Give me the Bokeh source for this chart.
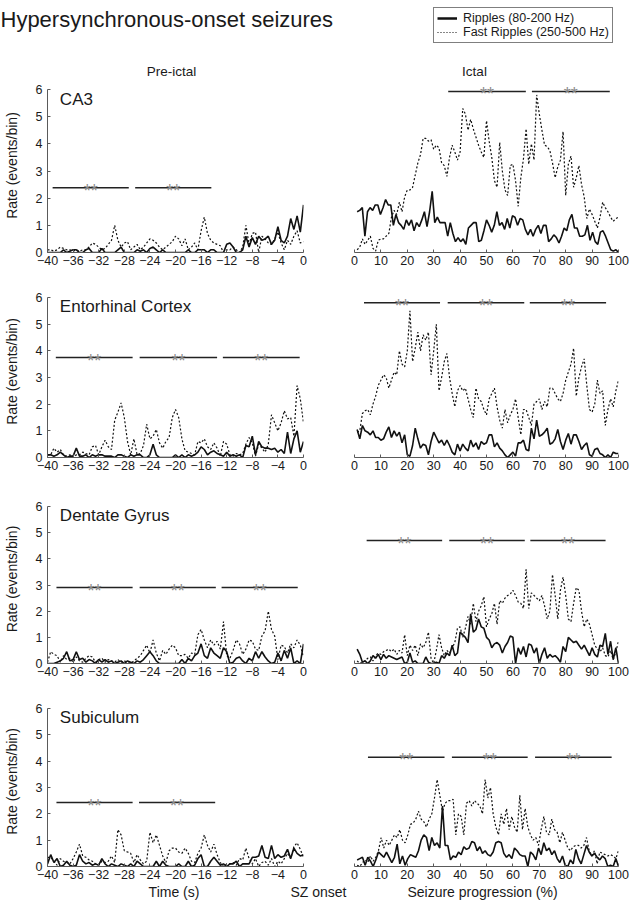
import numpy as np
from bokeh.plotting import figure
from bokeh.layouts import column, row
from bokeh.models import Range1d, FixedTicker, Label, Legend, LegendItem, ColumnDataSource
from bokeh.core.properties import value
from bokeh.embed import file_html
from bokeh.resources import INLINE

FONT = "Liberation Sans"

# ---------------------------------------------------------------- data
regions = ["CA3", "Entorhinal Cortex", "Dentate Gyrus", "Subiculum"]
pre_ticks = [-40, -36, -32, -28, -24, -20, -16, -12, -8, -4, 0]
ict_ticks = [0, 10, 20, 30, 40, 50, 60, 70, 80, 90, 100]
rate_ticks = [0, 1, 2, 3, 4, 5, 6]
pre_start, pre_end = -40, 0          # pre-ictal bins (s)
ict_start, ict_end = 1, 100          # ictal bins (% of seizure)

# CA3
ca3_pre_ripples = [0,0,0,0,0,0.1,0,0.05,0.1,0.1, 0,0,0.1,0.15,0,0,0,0.15,0,0,
                   0,0,0.1,0.2,0,0,0,0,0.1,0.05, 0.1,0,0.15,0.2,0.1,0,0.1,0,0,0,
                   0,0,0,0,0.1,0,0,0.1,0.1,0.1, 0,0.1,0.1,0,0,0,0.3,0.35,0.2,0,
                   0,0.1,0.6,0.2,0.55,0.3,0.6,0.45,0.5,0.6, 0.3,0.45,0.95,0.45,0.35,0.6,1.25,0.85,1.35,0.75,
                   1.75]
ca3_pre_fast = [0.1,0.1,0.05,0.1,0.2,0.15,0.1,0.1,0.05,0.1, 0.05,0.1,0.1,0.2,0.35,0.3,0.2,0.1,0.15,0.3,
                0.45,1.0,0.45,0.2,0.35,0.4,0.1,0.2,0.3,0.1, 0.2,0.35,0.5,0.45,0.35,0.2,0.1,0.2,0.3,0.4,
                0.6,0.5,0.25,0.5,0.1,0.2,0.35,0.1,0.8,1.3, 0.7,0.45,0.35,0.3,0.25,0,0.1,0.1,0.2,0.1,
                0,0.2,1.0,0.3,0.7,0.75,0,0.6,0.5,0.35, 0.3,0.5,0.75,0.35,0.1,0.45,0.3,0.6,0.8,0.35,
                0.4]
ca3_ict_ripples = [1.5,1.55,1.65,0.6,1.5,1.65,1.55,1.75,1.75,1.4, 1.65,1.95,1.75,1.75,1.0,1.4,1.1,1.0,0.85,1.2,
                   1.0,1.2,0.8,1.1,0.95,1.2,1.5,0.95,1.5,2.25, 1.1,1.3,1.1,1.1,1.1,0.6,1.1,0.7,0.4,0.55,
                   0.4,0.5,0.3,0.9,1.0,1.1,1.1,0.4,0.45,0.8, 1.2,1.0,0.75,1.0,1.5,1.0,1.1,0.85,1.25,0.9,
                   1.35,1.3,1.0,1.25,1.2,0.85,0.65,0.85,0.6,0.85, 1.0,0.7,1.0,1.0,0.4,0.5,0.65,0.55,0.35,0.6,
                   0.9,0.8,1.2,1.4,0.9,0.9,0.6,0.6,0.65,1.0, 0.45,0.75,0.4,0.3,0.75,0.8,0.6,0.35,0.1,0.05,
                   0.1,0]
ca3_ict_fast = [0.1,0.2,0.5,0.3,0.45,0.6,0.15,0.05,0.45,0.5, 0.5,0.6,0.7,1.3,1.55,1.4,1.85,1.5,2.05,2.3,
                2.3,2.4,2.85,3.3,3.6,4.2,4.2,4.1,4.15,3.8, 3.95,3.85,3.3,3.2,2.8,3.5,3.95,3.7,3.4,3.7,
                5.3,5.1,4.5,4.9,4.55,4.25,3.95,3.7,3.5,4.85, 4.1,3.5,2.65,2.4,4.05,3.0,2.3,2.1,3.2,3.25,
                2.65,1.7,2.75,3.45,4.55,3.25,4.0,3.4,5.8,5.1, 4.5,3.95,3.9,3.75,3.3,2.75,3.15,3.4,4.45,2.1,
                3.25,3.55,2.4,2.75,3.2,2.5,2.05,1.25,1.6,1.4, 1.15,0.9,1.3,1.85,1.65,1.5,1.3,1.15,1.25,1.3]

# Entorhinal cortex
ec_pre_ripples = [0.1,0.1,0.05,0.1,0.2,0.1,0,0.05,0.05,0.35, 0.05,0.05,0.1,0,0.1,0.05,0.1,0.1,0.05,0.05,
                  0.05,0,0.1,0.1,0.05,0,0.1,0.05,0.1,0.1, 0,0,0.1,0.5,0.1,0,0,0,0,0,
                  0.1,0,0.1,0,0.1,0.05,0.1,0.2,0.4,0.3, 0.1,0.2,0.25,0.15,0.1,0.05,0.2,0.05,0.1,0.05,
                  0.1,0,0.45,0.4,0.8,0.1,0.6,0.4,0.35,0.35, 0.3,0.35,0.2,0.3,0.15,0.95,0.15,0.7,1.0,0.2,
                  0.6]
ec_pre_fast = [0.1,0.1,0.35,0.2,0.3,0.1,0.05,0.1,0,0.1, 0.1,0.2,0.15,0.1,0.4,0.45,0.1,0.4,0.65,0.4,
               0.3,1.4,1.7,2.05,1.5,0.6,0.1,0.7,0.1,0.15, 0.45,1.25,0.7,0.8,1.05,0.55,0.35,0.6,0.75,1.5,
               1.8,1.5,0.7,0.25,0.2,0.15,0.1,0.6,0.55,0.7, 0.4,0.3,0.55,0.35,0.05,0.6,0.5,0.1,0.05,0.15,
               0.1,0.15,0.5,0.75,0.55,0.05,0.5,0.35,0.2,0.5, 1.6,1.3,1.0,1.3,1.75,1.45,1.5,0.8,2.7,2.2,
               1.3]
ec_ict_ripples = [1.05,0.7,1.2,1.0,0.95,0.85,1.0,0.75,0.75,0.65, 0.7,0.95,1.15,0.75,1.0,0.8,0.95,0.55,0.85,0.1,
                  0.05,0.45,1.1,0.7,0.35,0.5,0.45,0.1,0.6,0.95, 0.75,0.55,0.65,0.45,0.65,0.45,0.2,0.1,0.5,0.25,
                  0.5,0.35,0.25,0.65,0.4,0.55,0.3,0.6,0.5,0.55, 0.85,0.85,0.4,0.55,0.35,0.25,0.1,0.0,0.1,0.2,
                  0.05,0.55,0.55,0.65,0.3,0.25,1.1,0.7,1.4,0.8, 0.85,0.95,1.1,0.5,0.55,0.7,1.05,0.6,0.3,0.65,
                  0.9,0.5,0.85,0.85,0.6,0.3,0.45,0.55,0.1,0.05, 0.3,0.35,0.15,0.1,0.0,0.1,0.0,0.2,0.15,0.15]
ec_ict_fast = [0.95,1.0,1.65,1.75,1.8,1.6,2.0,2.3,2.7,2.9, 3.1,3.0,2.6,2.9,3.2,3.1,4.0,3.5,3.4,4.0,
               5.5,3.6,4.1,4.7,4.0,4.6,4.4,4.7,3.1,4.0, 5.0,2.5,3.0,3.6,3.9,3.0,2.4,1.9,2.5,2.7,
               2.5,2.6,2.2,1.8,1.5,2.6,2.2,2.1,1.8,1.6, 2.2,2.4,2.6,1.9,1.4,1.1,1.8,1.3,1.6,1.8,
               2.2,1.5,0.85,1.8,1.8,1.5,1.2,2.0,2.1,2.2, 1.8,2.1,1.9,2.6,2.6,2.4,2.2,2.1,2.4,2.9,
               3.2,3.5,4.1,2.3,3.0,3.4,3.7,2.7,1.8,1.7, 2.0,2.9,2.4,2.5,1.2,1.8,2.2,1.9,2.5,2.9]

# Dentate gyrus
dg_pre_ripples = [0,0,0,0.05,0.1,0.2,0.45,0.1,0.15,0.45, 0.15,0.2,0.05,0.15,0.1,0,0.15,0.05,0.15,0.05,
                  0.1,0,0.05,0.1,0,0.1,0.05,0,0.1,0.05, 0.15,0.3,0.45,0.3,0.1,0,0,0,0,0,
                  0,0,0.15,0,0.2,0.1,0.3,0.4,0.75,0.3, 0.2,0.6,0.4,0.3,0.2,0.6,0.45,0,0.05,0.2,
                  0.25,0.1,0,0.2,0.1,0.45,0.2,0.45,0.25,0.1, 0,0.05,0.4,0.1,0.5,0.2,0.6,0,0.1,0,
                  0.75]
dg_pre_fast = [0.05,0.45,0.35,0.3,0.05,0.3,0.15,0.2,0.05,0.25, 0.1,0.05,0.2,0.3,0.25,0.05,0.15,0.2,0.05,0.15,
               0.1,0.05,0.15,0.05,0.1,0.05,0,0.1,0.2,0.3, 0.5,0.7,0.4,0.9,0.4,0.1,0.5,0.35,0.55,0.7,
               0.6,0.3,0.3,0.35,0.2,0.4,0.35,1.1,1.3,0.9, 0.6,0.9,0.7,0.85,0.55,1.6,0.3,0.2,0.5,0.9,
               0.75,0.35,0.55,0.9,0.85,0.55,0.5,1.05,1.25,2.0, 1.3,1.05,0.15,0.7,0.65,0.4,0.75,0.6,0.9,0.7,
               0.25]
dg_ict_ripples = [0.55,0.35,0.05,0.1,0.0,0.1,0.3,0.2,0.35,0.15, 0.35,0.2,0.3,0.25,0.2,0.15,0.2,0.25,0.0,0.05,
                  0.4,0.05,0.1,0.0,0.0,0.0,0.25,0.05,0.0,0.0, 0.05,0.0,0.3,0.2,0.4,0.3,0.7,0.3,0.4,1.2,
                  1.1,1.0,0.8,1.9,1.2,1.3,1.7,1.4,1.35,1.0, 0.9,0.6,0.75,0.8,0.7,0.4,0.65,0.8,1.05,1.0,
                  0.0,0.6,0.35,0.65,0.25,0.75,0.7,0.4,0.6,0.0, 0.35,0.6,0.2,0.35,0.25,0.3,0.2,0.05,0.65,0.45,
                  1.0,0.9,0.8,0.85,0.7,0.55,0.7,0.5,0.3,0.6, 0.35,0.25,0.7,0.65,1.15,0.35,0.85,0.15,0.6,0.0]
dg_ict_fast = [0.1,0.0,0.05,0.1,0.2,0.25,0.1,0.3,0.4,0.35, 0.45,0.5,0.55,0.45,0.55,0.35,0.5,0.4,1.1,0.3,
               0.7,0.5,0.7,0.3,0.75,0.6,0.8,1.2,0.2,0.0, 0.5,1.1,0.6,0.3,0.5,0.4,0.6,0.8,1.35,1.4,
               1.0,1.35,1.8,1.5,2.3,1.6,2.0,2.2,2.55,1.4, 1.7,1.9,2.3,1.5,2.4,2.3,2.5,2.6,2.65,2.8,
               2.6,2.35,2.3,2.1,3.6,2.1,2.7,2.6,2.5,2.4, 2.6,2.2,1.7,2.0,3.4,2.6,1.7,2.8,3.3,2.6,
               1.7,1.6,2.3,2.9,2.8,2.0,1.4,1.7,1.5,1.1, 0.7,0.55,0.45,0.6,0.3,0.25,0.5,0.15,0.45,0.85]

# Subiculum
sub_pre_ripples = [0.1,0.45,0.15,0.3,0,0.05,0.2,0.05,0,0.05, 0.45,0.2,0.1,0.15,0.05,0.1,0.05,0.3,0.1,0,
                   0.1,0.05,0,0.1,0.05,0,0.1,0,0.2,0.1, 0,0,0,0,0.2,0,0.2,0.05,0,0,
                   0,0.1,0,0,0.2,0,0.05,0.3,0.45,0, 0,0.2,0.35,0.2,0.05,0.1,0,0.1,0.1,0.2,
                   0,0.1,0.1,0.1,0.35,0.35,0.4,0.8,0.35,0.3, 0.8,0.3,0.45,0.35,0.4,0.65,0.3,0.7,0.5,0.4,
                   0.45]
sub_pre_fast = [0.35,0.35,0.2,0.05,0.3,0.2,0.15,0.1,0.3,0.55, 0.85,0.4,0.35,0.25,0.2,0.1,0.05,0.2,0.15,0.2,
                0.4,0.15,1.4,1.2,0.6,0.55,0.5,0.15,0.45,0.25, 0.1,0.2,1.3,0.9,1.2,0.8,0.4,0.15,0.6,0.7,
                0.7,0.55,0.5,0.7,0.5,0.2,0.15,0.5,0.7,1.2, 0.8,0.55,0.85,0.45,0.15,0,0.1,0.1,0.15,0.05,
                0.3,0.25,0.7,0.3,0.1,0.3,0,0.15,0.2,0.05, 0.3,0,0.2,0.1,0.3,0.5,0.3,0.75,0.9,0.65,
                0.35]
sub_ict_ripples = [0.25,0.3,0.35,0.05,0.35,0.2,0.0,0.25,0.55,0.45, 0.35,0.55,0.35,0.15,0.35,0.85,0.1,0.4,0.05,0.3,
                   0.45,0.4,0.35,0.6,1.0,1.2,1.1,0.6,1.1,0.8, 0.9,0.7,2.3,0.8,0.8,0.25,0.4,0.35,0.55,0.45,
                   0.75,0.65,0.7,0.95,0.9,0.6,0.75,0.5,0.6,0.45, 0.4,0.55,0.9,0.95,0.9,0.5,0.35,0.45,0.3,0.7,
                   0.6,0.45,0.4,0.4,0.0,0.55,0.45,0.25,0.7,0.45, 0.9,0.6,0.7,0.45,0.6,0.3,0.15,0.4,0.05,0.0,
                   0.25,0.1,0.65,0.3,0.1,0.45,0.8,0.55,0.4,0.5, 0.35,0.25,0.4,0.3,0.0,0.05,0.0,0.3,0.0]
sub_ict_fast = [0.05,0.0,0.15,0.25,0.15,0.4,0.2,0.35,0.6,1.1, 0.7,1.0,0.8,1.0,1.2,1.1,1.4,1.0,0.9,1.2,
                1.6,1.65,1.8,2.1,1.8,1.7,1.5,1.8,2.0,2.6, 3.3,2.7,2.1,2.4,2.5,2.5,2.55,1.2,2.0,1.9,
                1.2,2.4,2.5,2.3,2.5,2.4,2.3,2.0,3.3,2.6, 3.0,2.0,1.5,1.2,2.0,1.6,2.2,1.4,1.9,1.5,
                1.3,2.7,1.4,2.2,1.5,1.2,1.0,1.1,0.8,1.4, 1.9,1.3,1.2,1.8,1.4,1.3,0.9,1.3,1.0,0.7,
                0.6,0.75,0.8,0.8,0.7,0.8,1.1,0.6,0.4,0.6, 0.1,0.55,0.5,0.45,0.4,0.45,0.4,0.3,0.6]

# significance bars (**): start, end, level
ca3_pre_sig_x0, ca3_pre_sig_x1, ca3_pre_sig_y = [-39.2, -26.3], [-27.3, -14.4], 2.38
ca3_ict_sig_x0, ca3_ict_sig_x1, ca3_ict_sig_y = [35.5, 67.2], [64.9, 96.7], 5.93
ec_pre_sig_x0, ec_pre_sig_x1, ec_pre_sig_y = [-38.7, -25.6, -12.6], [-26.7, -13.5, -0.6], 3.75
ec_ict_sig_x0, ec_ict_sig_x1, ec_ict_sig_y = [3.6, 35.3, 66.4], [32.4, 64.3, 95.3], 5.8
dg_pre_sig_x0, dg_pre_sig_x1, dg_pre_sig_y = [-38.6, -25.6, -12.8], [-26.7, -13.7, -0.9], 2.9
dg_ict_sig_x0, dg_ict_sig_x1, dg_ict_sig_y = [4.6, 35.9, 66.6], [33.2, 64.5, 95.1], 4.7
sub_pre_sig_x0, sub_pre_sig_x1, sub_pre_sig_y = [-38.6, -25.7], [-26.7, -13.8], 2.43
sub_ict_sig_x0, sub_ict_sig_x1, sub_ict_sig_y = [5.1, 36.9, 68.4], [34.1, 65.6, 97.4], 4.15

panels = [
    (ca3_pre_ripples, ca3_pre_fast, ca3_pre_sig_x0, ca3_pre_sig_x1, ca3_pre_sig_y,
     ca3_ict_ripples, ca3_ict_fast, ca3_ict_sig_x0, ca3_ict_sig_x1, ca3_ict_sig_y),
    (ec_pre_ripples, ec_pre_fast, ec_pre_sig_x0, ec_pre_sig_x1, ec_pre_sig_y,
     ec_ict_ripples, ec_ict_fast, ec_ict_sig_x0, ec_ict_sig_x1, ec_ict_sig_y),
    (dg_pre_ripples, dg_pre_fast, dg_pre_sig_x0, dg_pre_sig_x1, dg_pre_sig_y,
     dg_ict_ripples, dg_ict_fast, dg_ict_sig_x0, dg_ict_sig_x1, dg_ict_sig_y),
    (sub_pre_ripples, sub_pre_fast, sub_pre_sig_x0, sub_pre_sig_x1, sub_pre_sig_y,
     sub_ict_ripples, sub_ict_fast, sub_ict_sig_x0, sub_ict_sig_x1, sub_ict_sig_y),
]

# ---------------------------------------------------------------- layout geometry (px)
W = 633
LW = 340                 # left column width
RW = W - LW
L_LEFT, L_FRAME = 44, 259
R_LEFT, R_FRAME = 14, 264
HEADER_H = 78
STRIP_H = 16
# per row: figure top, frame bottom (y=0), pixel of y=6, figure bottom
row_geom = [(78, 252, 89, 285), (285, 457, 297, 494), (494, 663, 506, 696), (696, 866, 708, 884)]

AX_COL = "#5a5a5a"
TXT_COL = "#1a1a1a"
LINE_COL = "#111111"
STAR_COL = "#8a8a8a"


def style_xaxis(ax, ticks, bounds):
    ax.ticker = FixedTicker(ticks=ticks)
    ax.bounds = bounds
    ax.major_tick_in = 3
    ax.major_tick_out = 0
    ax.minor_tick_line_color = None
    ax.axis_line_color = AX_COL
    ax.major_tick_line_color = AX_COL
    ax.major_label_text_font = FONT
    ax.major_label_text_font_size = "12.5px"
    ax.major_label_text_color = TXT_COL
    ax.major_label_standoff = 3


def base_fig(w, h, xr, ymax, bottom, left, right, yaxis):
    p = figure(width=w, height=h, x_range=Range1d(*xr), y_range=Range1d(0, ymax),
               output_backend="svg", toolbar_location=None,
               y_axis_location="left" if yaxis else None,
               min_border_left=left, min_border_right=right,
               min_border_top=0, min_border_bottom=bottom)
    p.outline_line_color = None
    p.xgrid.visible = False
    p.ygrid.visible = False
    p.background_fill_color = "white"
    p.border_fill_color = "white"
    return p


def add_series(p, x, ripples, fast):
    p.line(np.linspace(x[0], x[1], len(fast)), fast, line_color=LINE_COL,
           line_width=1.2, line_dash="2 2")
    p.line(np.linspace(x[0], x[1], len(ripples)), ripples, line_color=LINE_COL,
           line_width=1.6)


def add_sig(p, x0, x1, lvl):
    src = ColumnDataSource(dict(x0=x0, x1=x1, y=[lvl] * len(x0),
                                xm=[(a + b) / 2 for a, b in zip(x0, x1)],
                                t=["**"] * len(x0)))
    p.segment(x0="x0", y0="y", x1="x1", y1="y", source=src, line_color="#222222",
              line_width=1.5)
    p.text(x="xm", y="y", text="t", source=src, text_font=value(FONT),
           text_font_size=value("18px"), text_align="center",
           text_baseline="alphabetic", text_color=STAR_COL, y_offset=3)


def plain_fig(w, h, x0):
    p = figure(width=w, height=h, x_range=Range1d(x0, x0 + w), y_range=Range1d(0, h),
               output_backend="svg", toolbar_location=None,
               x_axis_location=None, y_axis_location=None,
               min_border_left=0, min_border_right=0, min_border_top=0, min_border_bottom=0)
    p.outline_line_color = None
    p.xgrid.visible = False
    p.ygrid.visible = False
    p.background_fill_color = "white"
    p.border_fill_color = "white"
    return p


# ---------------------------------------------------------------- header
HX = 200   # header x-range offset (keeps the legend proxy lines out of view)
hdr = plain_fig(W, HEADER_H, HX)
hdr.add_layout(Label(x=HX + 0, y=HEADER_H - 19, text="Hypersynchronous-onset seizures",
                     text_font=FONT, text_font_size="22px", text_color=TXT_COL,
                     text_baseline="alphabetic", text_align="left"))
hdr.add_layout(Label(x=HX + 171, y=HEADER_H - 70.5, text="Pre-ictal", text_font=FONT,
                     text_font_size="13.5px", text_color=TXT_COL,
                     text_align="center", text_baseline="middle"))
hdr.add_layout(Label(x=HX + 474, y=HEADER_H - 70.5, text="Ictal", text_font=FONT,
                     text_font_size="13.5px", text_color=TXT_COL,
                     text_align="center", text_baseline="middle"))
ict_x = np.linspace(ict_start, ict_end, len(ca3_ict_ripples))
r_solid = hdr.line(ict_x, ca3_ict_ripples, line_color=LINE_COL, line_width=2.5)
r_dot = hdr.line(np.linspace(ict_start, ict_end, len(ca3_ict_fast)), ca3_ict_fast,
                 line_color=LINE_COL, line_width=1.2, line_dash="1 2")
leg = Legend(items=[LegendItem(label="Ripples (80-200 Hz)", renderers=[r_solid]),
                    LegendItem(label="Fast Ripples (250-500 Hz)", renderers=[r_dot])],
             location=(433, HEADER_H - 43), orientation="vertical",
             label_text_font=FONT, label_text_font_size="12.5px", label_text_color=TXT_COL,
             glyph_width=20, glyph_height=12, label_height=12, label_standoff=6,
             padding=3, spacing=0, margin=0,
             border_line_color="black", border_line_width=1,
             background_fill_color="white", background_fill_alpha=1.0)
hdr.add_layout(leg)

# ---------------------------------------------------------------- rows
rows = []
for i, (name, pan, geom) in enumerate(zip(regions, panels, row_geom)):
    (pre_r, pre_f, px0, px1, py, ict_r, ict_f, ix0, ix1, iy) = pan
    ftop, y0px, y6px, fbot = geom
    h = fbot - ftop
    bottom = fbot - y0px
    ymax = 6.0 * (y0px - ftop) / (y0px - y6px)

    pl = base_fig(LW, h, (pre_start, pre_end), ymax, bottom, L_LEFT, LW - L_LEFT - L_FRAME, True)
    style_xaxis(pl.xaxis[0], pre_ticks, (pre_start, pre_end))
    ya = pl.yaxis[0]
    ya.ticker = FixedTicker(ticks=rate_ticks)
    ya.bounds = (0, 6)
    ya.major_tick_in = 3
    ya.major_tick_out = 0
    ya.minor_tick_line_color = None
    ya.axis_line_color = AX_COL
    ya.major_tick_line_color = AX_COL
    ya.major_label_text_font = FONT
    ya.major_label_text_font_size = "12.5px"
    ya.major_label_text_color = TXT_COL
    ya.major_label_standoff = 5
    ya.axis_label = "Rate (events/bin)"
    ya.axis_label_text_font = FONT
    ya.axis_label_text_font_size = "14px"
    ya.axis_label_text_font_style = "normal"
    ya.axis_label_text_color = TXT_COL
    ya.axis_label_standoff = 13
    add_series(pl, (pre_start, pre_end), pre_r, pre_f)
    add_sig(pl, px0, px1, py)
    pl.add_layout(Label(x=-38.07, y=5.65, text=name, text_font=FONT, text_font_size="17px",
                        text_color=TXT_COL, text_baseline="middle"))

    pr = base_fig(RW, h, (0, 100), ymax, bottom, R_LEFT, RW - R_LEFT - R_FRAME, False)
    style_xaxis(pr.xaxis[0], ict_ticks, (0, 100))
    add_series(pr, (ict_start, ict_end), ict_r, ict_f)
    add_sig(pr, ix0, ix1, iy)
    rows.append(row(pl, pr, spacing=0))

# ---------------------------------------------------------------- bottom axis titles
strip = plain_fig(W, STRIP_H, 0)
for txt, cx in [("Time (s)", 173.5), ("SZ onset", 318), ("Seizure progression (%)", 482)]:
    strip.add_layout(Label(x=cx, y=STRIP_H - 7, text=txt, text_font=FONT,
                           text_font_size="14px", text_color=TXT_COL,
                           text_align="center", text_baseline="middle"))

layout = column(hdr, *rows, strip, spacing=0)
open("out.html", "w").write(file_html(layout, INLINE))
